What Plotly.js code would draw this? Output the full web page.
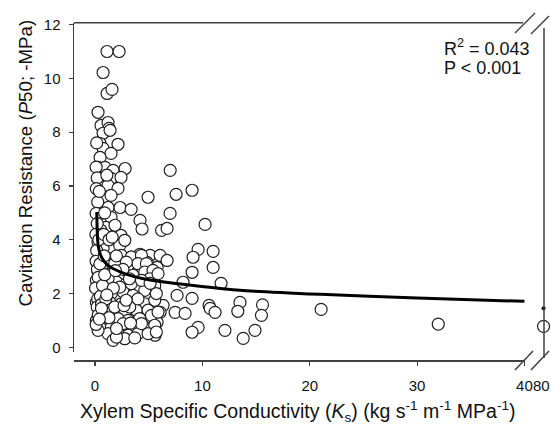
<!DOCTYPE html>
<html><head><meta charset="utf-8">
<script src="https://cdn.plot.ly/plotly-3.0.1.min.js"></script>
<style>html,body{margin:0;padding:0;background:#fff;}#chart{width:551px;height:429px;}</style>
</head><body><div id="chart"></div>
<script>
// Xylem specific conductivity (Ks) values, main panel
const ksValues = [
 1.12,2.24,0.75,1.12,1.58,0.28,0.56,1.21,1.3,0.75,1.4,0.47,2.14,0.75,1.49,0.47,0.28,0.93,1.68,2.8,
 0.75,1.49,2.42,1.21,2.14,0.75,1.49,4.94,1.21,2.33,3.36,0.56,1.49,4.19,4.38,1.03,1.86,0.56,6.2,6.71,
 2.42,7.0,7.55,9.04,6.99,10.25,4.19,5.13,6.06,4.85,5.78,6.71,9.6,11.0,9.13,11.0,9.04,8.2,11.74,7.64,
 9.04,10.62,10.72,11.18,13.5,13.3,15.6,15.5,6.34,6.06,7.46,8.39,5.78,9.6,9.04,12.1,13.8,14.9,5.59,21.06,
 31.97,
 0.28,1.05,1.68,2.3,2.77,0.44,1.37,2.45,3.38,4.32,
 0.59,1.83,3.08,4.0,4.78,1.52,2.45,3.54,4.63,5.4,
 0.12,1.05,1.99,2.92,3.85,4.78,0.59,1.52,2.61,3.54,4.63,5.56,
 0.12,1.37,2.45,3.7,4.63,5.56,0.44,1.52,2.77,3.85,4.94,0.12,1.05,2.14,3.08,4.16,5.25,
 0.59,1.52,2.45,3.54,4.63,5.56,1.21,2.14,3.08,4.0,4.94,1.68,2.77,
 0.75,1.99,2.92,1.21,2.3,3.38,0.28,5.1,5.87,4.32,1.83,3.23,0.9,2.61,4.32,0.28,1.99,3.7,5.71,5.87,5.71,5.13,
 0.15,0.1,0.2,0.12,0.25,0.1,0.2,0.08,0.15,0.1,0.22,0.3,0.05,0.25,0.2,0.3,0.1,0.4,0.35,0.45,0.5,0.6,0.7,0.8,0.9,0.85,1.0,1.1,1.3,1.6,
 0.6,1.3,2.0,2.7,3.3,4.0,0.9,1.7,2.6,3.2,0.4,1.1,1.9,2.9
];
// Cavitation resistance (P50; -MPa), main panel
const p50Values = [
 11.0,11.0,10.22,9.44,9.59,8.74,8.25,8.36,8.14,7.96,8.07,7.58,7.55,7.4,7.21,7.06,6.69,6.69,6.58,6.65,
 6.21,6.28,6.32,6.02,5.91,5.58,5.65,5.58,5.2,5.2,5.13,4.98,4.83,4.72,4.4,4.46,4.54,4.35,4.35,4.42,
 4.16,6.58,5.69,5.84,4.98,4.57,3.46,3.42,3.42,3.16,2.97,3.23,3.64,3.57,3.35,2.97,2.79,2.42,2.38,1.93,
 1.82,1.56,1.45,1.3,1.67,1.34,1.58,1.19,1.56,1.3,1.3,1.26,0.93,0.74,0.56,0.63,0.33,0.63,0.45,1.41,
 0.86,
 3.91,3.73,3.61,3.79,3.98,3.42,3.3,3.42,3.36,3.42,
 2.99,3.11,3.05,3.11,3.11,2.74,2.74,2.68,2.8,2.86,
 2.49,2.37,2.43,2.37,2.24,2.37,2.0,2.0,2.06,1.93,2.12,2.3,
 1.68,1.68,1.62,1.68,1.62,1.75,1.38,1.31,1.31,1.38,1.38,1.0,0.94,1.07,1.0,1.07,1.19,
 0.69,0.75,0.69,0.82,0.75,0.82,0.51,0.57,0.45,0.51,0.51,0.26,0.32,
 3.67,3.4,3.17,2.55,2.24,2.37,2.8,2.55,2.74,2.49,1.5,1.5,1.13,0.88,0.88,0.63,0.38,0.35,0.57,1.31,2.0,2.38,
 7.6,6.7,6.3,5.9,5.4,4.98,4.6,4.2,3.6,3.2,2.9,2.6,2.2,1.8,1.5,1.2,0.85,5.8,4.0,3.1,1.9,1.6,2.3,4.2,5.0,3.4,1.8,6.4,4.0,4.1,
 1.45,1.1,0.7,1.55,0.9,1.8,2.7,2.2,2.9,2.55,1.05,1.95,2.85,1.75
];
// point beyond the axis break
const ksBreak = [80];
const p50Break = [0.78];
// fitted curve
const fitKs  = [0.16,0.2,0.25,0.31,0.5,0.78,1.2,1.71,2.95,4.5,6.06,9.16,13.5,21,30,40];
const fitP50 = [5.03,4.35,3.95,3.73,3.45,3.23,3.05,2.92,2.71,2.55,2.45,2.3,2.12,1.97,1.83,1.71];
const fitBreakKs = [80];
const fitBreakP50 = [1.45];
// ticks
const xTickVals = [0,10,20,30,40];
const x2TickLabels = ['80'];
const yTickVals = [0,2,4,6,8,10,12];

const L = 74, R = 544, T = 23, B = 360;
const px = v => (v - L) / (R - L);
const py = v => (B - v) / (B - T);
const FONT = 'Liberation Sans, Arial, sans-serif';
const AX = '#404040';

const markerStyle = {size: 12, color: '#ffffff', line: {color: '#222222', width: 1.2}};

const traces = [
  {x: ksValues, y: p50Values, type: 'scatter', mode: 'markers', marker: markerStyle, xaxis: 'x', yaxis: 'y', hoverinfo: 'skip'},
  {x: fitKs, y: fitP50, type: 'scatter', mode: 'lines', line: {color: '#000', width: 3, shape: 'spline', smoothing: 0.6}, xaxis: 'x', yaxis: 'y'},
  {x: ksBreak, y: p50Break, type: 'scatter', mode: 'markers', marker: markerStyle, xaxis: 'x2', yaxis: 'y', cliponaxis: false},
  {x: fitBreakKs, y: fitBreakP50, type: 'scatter', mode: 'markers', marker: {size: 4, color: '#000'}, xaxis: 'x2', yaxis: 'y', cliponaxis: false}
];

const lineShape = (x0, y0, x1, y1) => ({type: 'line', xref: 'paper', yref: 'paper', x0: px(x0), y0: py(y0), x1: px(x1), y1: py(y1), line: {color: AX, width: 1.5}});

const layout = {
  width: 551, height: 429,
  margin: {l: L, r: 551 - R, t: T, b: 429 - B, pad: 0},
  paper_bgcolor: '#fff', plot_bgcolor: '#fff',
  showlegend: false,
  font: {family: FONT, size: 15, color: '#111'},
  xaxis: {
    domain: [0, px(525)], range: [-1.96, 40.05], anchor: 'free', position: 0,
    showline: true, linecolor: AX, linewidth: 1.5, ticks: 'outside', ticklen: 4, tickwidth: 1.2, tickcolor: AX,
    tickvals: xTickVals, tickfont: {family: FONT, size: 15, color: '#111'},
    showgrid: false, zeroline: false, ticklabelstandoff: 7
  },
  xaxis2: {
    domain: [px(538), 1], range: [79.75, 80.02], anchor: 'free', position: 0,
    showline: false, ticks: '', showticklabels: false,
    showgrid: false, zeroline: false
  },
  yaxis: {
    domain: [py(351.7), 1], range: [-0.163, 12.06], anchor: 'x',
    showline: true, linecolor: AX, linewidth: 1.5, ticks: 'outside', ticklen: 4, tickwidth: 1.2, tickcolor: AX,
    tickvals: yTickVals, tickfont: {family: FONT, size: 15, color: '#111'},
    showgrid: false, zeroline: false, ticklabelstandoff: 5
  },
  shapes: [
    lineShape(L, 22.7, 523, 22.7),
    lineShape(544, 28, 544, 358),
    lineShape(515, 33, 535, 13),
    lineShape(531, 34, 549, 16),
    lineShape(515, 370, 533, 351),
    lineShape(531, 370, 549, 351)
  ],
  annotations: [
    {xref: 'paper', yref: 'paper', x: px(541.5), y: py(385), xanchor: 'center', yanchor: 'middle', showarrow: false,
     text: x2TickLabels[0], font: {family: FONT, size: 15, color: '#111'}},
    {xref: 'paper', yref: 'paper', x: px(298), y: py(411), xanchor: 'center', yanchor: 'middle', showarrow: false,
     text: 'Xylem Specific Conductivity (<i>K</i><sub>s</sub>) (kg s<sup>-1</sup> m<sup>-1</sup> MPa<sup>-1</sup>)',
     font: {family: FONT, size: 19.5, color: '#111'}},
    {xref: 'paper', yref: 'paper', x: px(25), y: py(163.5), xanchor: 'center', yanchor: 'middle', showarrow: false, textangle: -90,
     text: 'Cavitation Resistance (<i>P</i>50; -MPa)', font: {family: FONT, size: 18.7, color: '#111'}},
    {xref: 'paper', yref: 'paper', x: px(442), y: py(47), xanchor: 'left', yanchor: 'middle', showarrow: false,
     text: 'R<sup>2</sup> = 0.043', font: {family: FONT, size: 18, color: '#111'}},
    {xref: 'paper', yref: 'paper', x: px(442), y: py(68), xanchor: 'left', yanchor: 'middle', showarrow: false,
     text: 'P &lt; 0.001', font: {family: FONT, size: 18, color: '#111'}}
  ]
};

Plotly.newPlot('chart', traces, layout, {staticPlot: true, displayModeBar: false});
</script>
</body></html>
